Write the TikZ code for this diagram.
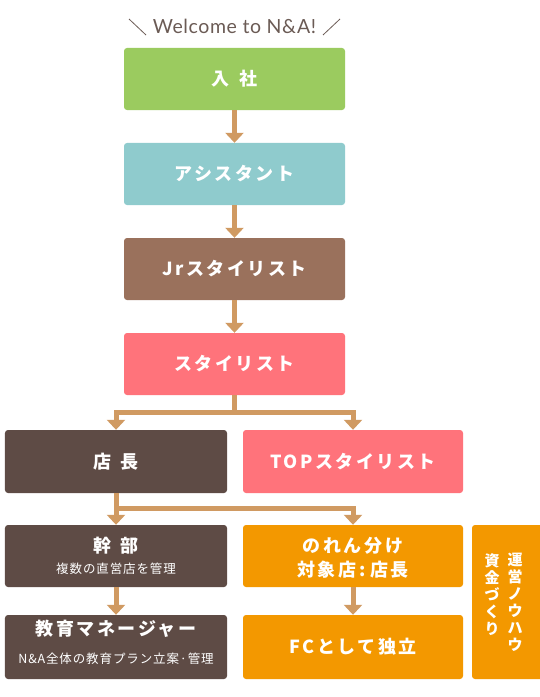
\documentclass[tikz,border=0pt]{standalone}
\usepackage{fontspec}
\usetikzlibrary{arrows.meta}
\newfontfamily\jp{Noto Sans CJK JP}[LetterSpace=14]
\newfontfamily\jpsub{Noto Sans CJK JP}[LetterSpace=7]
\newfontfamily\jpv{Noto Sans CJK JP}
\newfontfamily\wel{Lato}[LetterSpace=3]
\definecolor{cgreen}{HTML}{9BCB5F}
\definecolor{cteal}{HTML}{8FCBCD}
\definecolor{cjr}{HTML}{9A715C}
\definecolor{cpink}{HTML}{FF737B}
\definecolor{cdark}{HTML}{5E4B45}
\definecolor{corange}{HTML}{F39800}
\definecolor{carrow}{HTML}{D09A62}
\definecolor{cwel}{HTML}{6B5B55}
\tikzset{
  box/.style={rectangle, rounded corners=3bp, inner sep=0pt, text=white,
    minimum width=221bp, minimum height=62bp, align=center,
    font=\jp\bfseries\fontsize{18bp}{22bp}\selectfont},
  lbl/.style={inner sep=0pt, text=white, align=center,
    font=\jp\bfseries\fontsize{18bp}{22bp}\selectfont},
  sublbl/.style={inner sep=0pt, text=white, align=center,
    font=\jpsub\fontsize{12.5bp}{14bp}\selectfont},
  vlbl/.style={inner sep=0pt, text=white, align=center, anchor=north,
    font=\jpv\bfseries\fontsize{15bp}{17bp}\selectfont},
  conn/.style={draw=carrow, line width=5bp, -{Triangle[width=18bp,length=10bp]}},
}
\begin{document}
\begin{tikzpicture}[x=1bp,y=-1bp]
\useasboundingbox (0,0) rectangle (540,697);
% welcome
\node[inner sep=0pt, text=cwel, font=\wel\fontsize{19.5bp}{22bp}\selectfont] (wel) at (234.5,26.5) {Welcome to N\&A!};
\coordinate (s1a) at (129,19); \coordinate (s1b) at (146,35);
\coordinate (s2a) at (323,35); \coordinate (s2b) at (340,19);
\draw[cwel, line width=0.8bp] (s1a) -- (s1b);
\draw[cwel, line width=0.8bp] (s2a) -- (s2b);
% boxes
\node[box, fill=cgreen] (nyusha) at (234.5,79) {入\hspace{0.55em}社};
\node[box, fill=cteal] (asst) at (234.5,174) {アシスタント};
\node[box, fill=cjr] (jr) at (234.5,269) {Jrスタイリスト};
\node[box, fill=cpink] (styl) at (234.5,364) {スタイリスト};
\node[box, fill=cdark, minimum width=222bp, minimum height=63bp] (tencho) at (116,461.5) {店\hspace{0.55em}長};
\node[box, fill=cpink, minimum width=220bp, minimum height=63bp] (top) at (353,461.5) {TOPスタイリスト};
\node[box, fill=cdark, minimum width=222bp] (kanbu) at (116,556) {};
\node[box, fill=corange, minimum width=220bp] (noren) at (353,556) {};
\node[box, fill=cdark, minimum width=222bp, minimum height=64bp] (kyoiku) at (116,647) {};
\node[box, fill=corange, minimum width=220bp, minimum height=64bp] (fc) at (353,647) {FCとして独立};
\node[rectangle, rounded corners=3bp, fill=corange, minimum width=73bp, minimum height=154bp, inner sep=0pt] (bar) at (508.5,602) {};
% labels
\node[lbl] (kanbuT) at (116,546) {幹\hspace{0.55em}部};
\node[sublbl] (kanbuS) at (116,569) {複数の直営店を管理};
\node[lbl] (kyoikuT) at (116,628.5) {教育マネージャー};
\node[sublbl] (kyoikuS) at (116,659) {N\&A全体の教育プラン立案·管理};
\node[lbl] (norenT) at (353,546) {のれん分け};
\node[lbl] (norenS) at (353,570) {対象店\hspace{0.15em}:\hspace{0.25em}店長};
\node[vlbl] (v1) at (515,553) {運\\営\\ノ\\ウ\\ハ\\ウ};
\node[vlbl] (v2) at (492,553) {資\\金\\づ\\く\\り};
% connectors
\draw[conn] (nyusha.south) -- (asst.north);
\draw[conn] (asst.south) -- (jr.north);
\draw[conn] (jr.south) -- (styl.north);
\coordinate (j1) at (234.5,412);
\draw[conn] (styl.south) -- (j1) -| (tencho.north);
\draw[conn] (j1) -| (top.north);
\coordinate (j2) at (116,508);
\draw[conn] (tencho.south) -- (kanbu.north);
\draw[conn] (j2) -| (noren.north);
\draw[conn] (kanbu.south) -- (kyoiku.north);
\draw[conn] (noren.south) -- (fc.north);
\end{tikzpicture}
\end{document}
